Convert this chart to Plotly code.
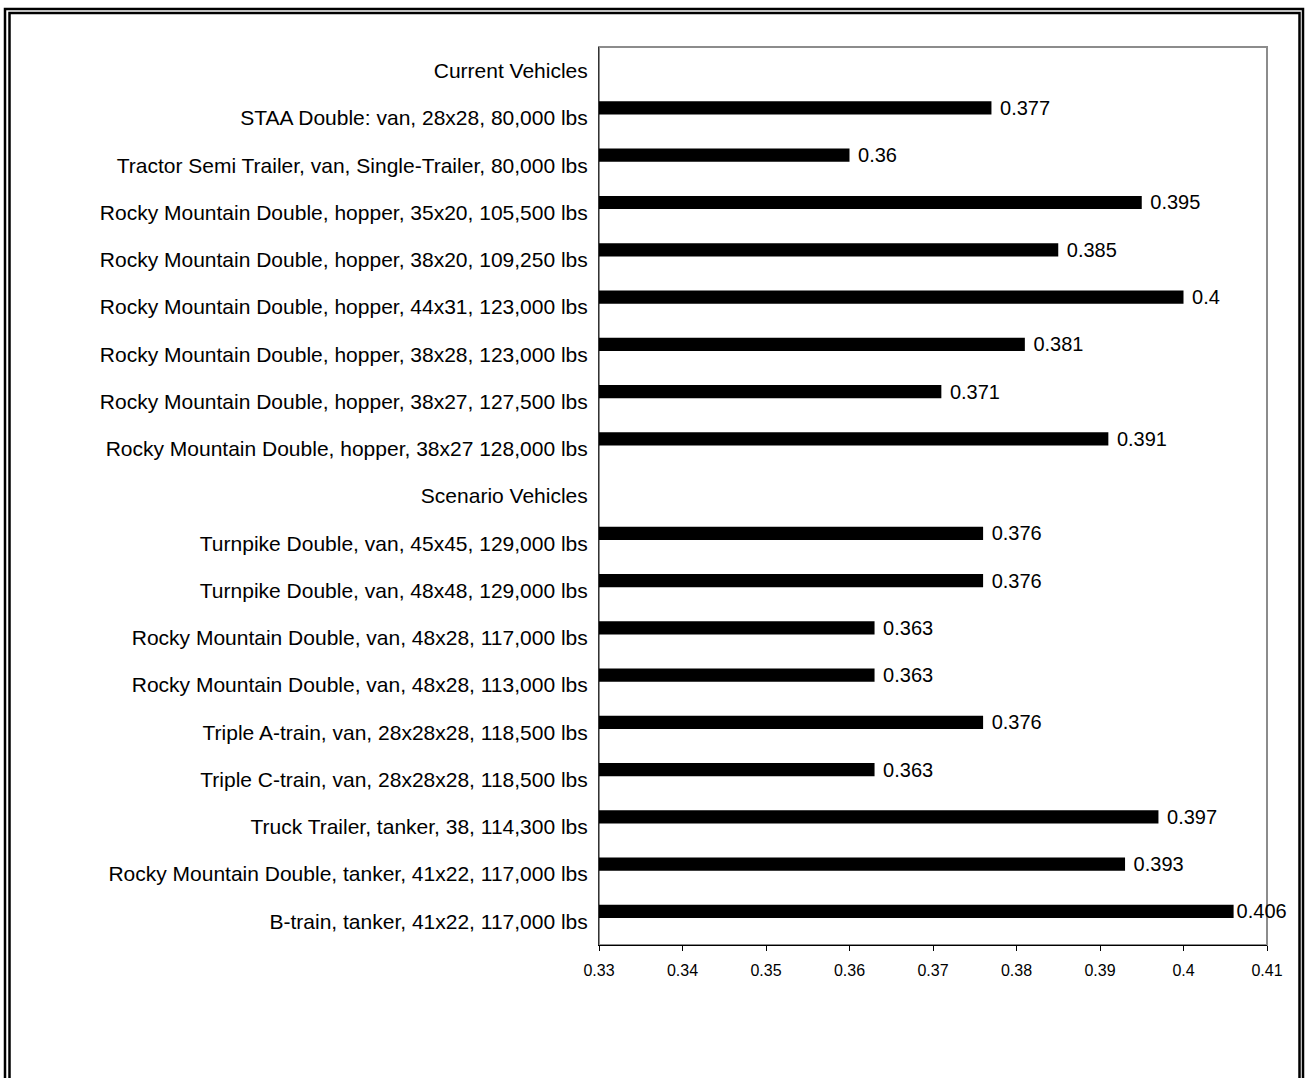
import plotly.graph_objects as go

# Vehicle configurations (top to bottom) and their values; group headers have no value
categories = [
    "Current Vehicles",
    "STAA Double: van, 28x28, 80,000 lbs",
    "Tractor Semi Trailer, van, Single-Trailer, 80,000 lbs",
    "Rocky Mountain Double, hopper, 35x20, 105,500 lbs",
    "Rocky Mountain Double, hopper, 38x20, 109,250 lbs",
    "Rocky Mountain Double, hopper, 44x31, 123,000 lbs",
    "Rocky Mountain Double, hopper, 38x28, 123,000 lbs",
    "Rocky Mountain Double, hopper, 38x27, 127,500 lbs",
    "Rocky Mountain Double, hopper, 38x27 128,000 lbs",
    "Scenario Vehicles",
    "Turnpike Double, van, 45x45, 129,000 lbs",
    "Turnpike Double, van, 48x48, 129,000 lbs",
    "Rocky Mountain Double, van, 48x28, 117,000 lbs",
    "Rocky Mountain Double, van, 48x28, 113,000 lbs",
    "Triple A-train, van, 28x28x28, 118,500 lbs",
    "Triple C-train, van, 28x28x28, 118,500 lbs",
    "Truck Trailer, tanker, 38, 114,300 lbs",
    "Rocky Mountain Double, tanker, 41x22, 117,000 lbs",
    "B-train, tanker, 41x22, 117,000 lbs",
]
values = [None, 0.377, 0.36, 0.395, 0.385, 0.4, 0.381, 0.371, 0.391,
          None, 0.376, 0.376, 0.363, 0.363, 0.376, 0.363, 0.397, 0.393, 0.406]
x_ticks = [0.33, 0.34, 0.35, 0.36, 0.37, 0.38, 0.39, 0.40, 0.41]
x_tick_labels = ["0.33", "0.34", "0.35", "0.36", "0.37", "0.38", "0.39", "0.4", "0.41"]

X_MIN, X_MAX = 0.33, 0.41
W, H = 1306, 1078
L, R, T, B = 599, 1267, 47, 945
FONT = "Liberation Sans, Arial, sans-serif"


def label_for(v):
    if v is None:
        return ""
    s = f"{v:g}"
    # labels near the right edge sit tight against the bar end
    return s if v > X_MAX - 0.005 else "\u00a0" + s


value_labels = [label_for(v) for v in values]

# bars sit in the upper part of each category band (first slot of a cluster)
BAR_W = 0.28
BAR_OFFSET = -0.35

fig = go.Figure(go.Bar(
    y=categories,
    x=[None if v is None else v - X_MIN for v in values],
    base=X_MIN,
    orientation="h",
    width=BAR_W,
    offset=BAR_OFFSET,
    marker=dict(color="black", line=dict(width=0)),
    text=value_labels, textposition="outside",
    constraintext="none",
    textfont=dict(family=FONT, size=20, color="black"),
    cliponaxis=False,
    hoverinfo="skip",
))


def px_x(px):
    return (px - L) / (R - L)


def px_y(py):
    return (B - py) / (B - T)


shapes = [
    # plot area frame
    dict(type="rect", xref="paper", yref="paper", x0=0, x1=1, y0=0, y1=1,
         line=dict(color="#8c8c8c", width=2), layer="below"),
    # double border around the chart
    dict(type="rect", xref="paper", yref="paper",
         x0=px_x(5), x1=px_x(1303), y0=px_y(1100), y1=px_y(9),
         line=dict(color="black", width=2.5)),
    dict(type="rect", xref="paper", yref="paper",
         x0=px_x(9.5), x1=px_x(1299.5), y0=px_y(1100), y1=px_y(13),
         line=dict(color="black", width=2.5)),
]

fig.update_layout(
    width=W, height=H,
    margin=dict(l=L, r=W - R, t=T, b=H - B, autoexpand=False),
    paper_bgcolor="white", plot_bgcolor="white",
    showlegend=False,
    font=dict(family=FONT, color="black"),
    shapes=shapes,
    xaxis=dict(
        range=[X_MIN, X_MAX],
        tickvals=x_ticks, ticktext=x_tick_labels,
        ticks="outside", ticklen=5, tickcolor="black", tickwidth=1,
        ticklabelstandoff=6,
        showgrid=False, zeroline=False,
        showline=True, linecolor="black", linewidth=1,
        tickfont=dict(size=16, color="black"),
    ),
    yaxis=dict(
        categoryorder="array", categoryarray=categories,
        autorange="reversed",
        showgrid=False, zeroline=False,
        showline=True, linecolor="#333333", linewidth=1,
        ticks="", ticklabelstandoff=6,
        tickfont=dict(size=21, color="black"),
    ),
)

fig.write_html("out.html")
